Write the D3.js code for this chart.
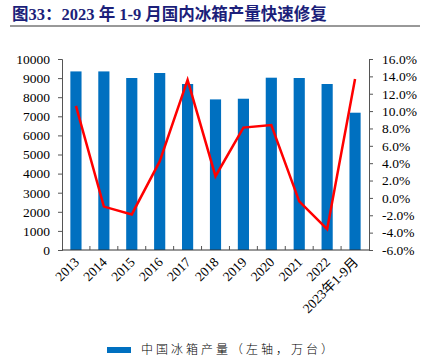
<!DOCTYPE html>
<html>
<head>
<meta charset="utf-8">
<script src="https://cdn.jsdelivr.net/npm/d3@7"></script>
<style>
  body { margin: 0; background: #fff; }
  svg text { font-family: "Liberation Serif", "Noto Sans CJK SC", serif; }
</style>
</head>
<body>
<div id="chart"></div>
<script>
const categories = ["2013", "2014", "2015", "2016", "2017", "2018", "2019", "2020", "2021", "2022", "2023年1-9月"];
const output = [9350, 9350, 9005, 9267, 8691, 7885, 7920, 9021, 9005, 8691, 7188];
const growth = [10.6, -1.0, -1.9, 4.2, 13.6, 2.5, 8.1, 8.4, -0.4, -3.6, 13.7];
const leftTicks = [0, 1000, 2000, 3000, 4000, 5000, 6000, 7000, 8000, 9000, 10000];
const rightTicks = [-6, -4, -2, 0, 2, 4, 6, 8, 10, 12, 14, 16];
const titleText = "图33：2023 年 1-9 月国内冰箱产量快速修复";
const legendText = "中国冰箱产量（左轴，万台）";

const width = 424, height = 363;
const margin = {top: 59, right: 55, bottom: 113, left: 62};
const plotW = width - margin.left - margin.right;
const plotH = height - margin.top - margin.bottom;

const svg = d3.select("#chart")
    .append("svg")
    .attr("width", width)
    .attr("height", height);

// title
svg.append("text")
    .attr("x", 12)
    .attr("y", 20)
    .attr("fill", "#1c1f7a")
    .attr("font-size", 16.5)
    .attr("font-weight", "bold")
    .text(titleText);

svg.append("line")
    .attr("x1", 10).attr("x2", 420)
    .attr("y1", 26).attr("y2", 26)
    .attr("stroke", "#333")
    .attr("stroke-width", 1);

const g = svg.append("g")
    .attr("transform", `translate(${margin.left}, ${margin.top})`);

const x = d3.scaleBand()
    .domain(categories)
    .range([0, plotW])
    .paddingInner(0.6)
    .paddingOuter(0.3);

const yLeft = d3.scaleLinear().domain([0, 10000]).range([plotH, 0]);
const yRight = d3.scaleLinear().domain([-6, 16]).range([plotH, 0]);

// bars
g.selectAll("rect.bar")
    .data(output)
    .enter()
    .append("rect")
    .attr("class", "bar")
    .attr("x", (d, i) => x(categories[i]))
    .attr("y", d => yLeft(d))
    .attr("width", x.bandwidth())
    .attr("height", d => plotH - yLeft(d))
    .attr("fill", "#0070c0");

// left axis
const leftAxis = g.append("g")
    .call(d3.axisLeft(yLeft).tickValues(leftTicks).tickSize(4).tickFormat(d3.format("d")));
leftAxis.selectAll("text").attr("font-size", 13.5).attr("fill", "#000").attr("x", -12);

// right axis
const rightAxis = g.append("g")
    .attr("transform", `translate(${plotW}, 0)`)
    .call(d3.axisRight(yRight).tickValues(rightTicks).tickSize(4).tickFormat(d => d.toFixed(1) + "%"));
rightAxis.selectAll("text").attr("font-size", 13.5).attr("fill", "#000").attr("x", 13);

[leftAxis, rightAxis].forEach(a => {
    a.select(".domain").attr("stroke", "#555");
    a.selectAll(".tick line").attr("stroke", "#555");
});

// bottom axis: category boundaries as ticks
const step = x.step();
const bottom = g.append("g").attr("transform", `translate(0, ${plotH})`);
bottom.append("line")
    .attr("x1", 0).attr("x2", plotW)
    .attr("stroke", "#333");
bottom.selectAll("line.tick")
    .data(categories.slice(1))
    .enter()
    .append("line")
    .attr("class", "tick")
    .attr("x1", d => x(d) - (step - x.bandwidth()) / 2)
    .attr("x2", d => x(d) - (step - x.bandwidth()) / 2)
    .attr("y1", 0).attr("y2", -4)
    .attr("stroke", "#555");
bottom.selectAll("text")
    .data(categories)
    .enter()
    .append("text")
    .attr("transform", d => `translate(${x(d) + x.bandwidth() / 2 + 4}, 13) rotate(-45)`)
    .attr("text-anchor", "end")
    .attr("font-size", 13.5)
    .attr("fill", "#000")
    .text(d => d);

// growth line
const line = d3.line()
    .x((d, i) => x(categories[i]) + x.bandwidth() / 2)
    .y(d => yRight(d));

g.append("path")
    .datum(growth)
    .attr("d", line)
    .attr("fill", "none")
    .attr("stroke", "#ff0000")
    .attr("stroke-width", 2.5);

// legend
const legend = svg.append("g").attr("transform", "translate(107, 350)");
legend.append("rect")
    .attr("x", 0).attr("y", -3)
    .attr("width", 24).attr("height", 6)
    .attr("fill", "#0070c0");
legend.append("text")
    .attr("x", 34)
    .attr("y", 0)
    .attr("dy", "0.35em")
    .attr("font-size", 12)
    .attr("fill", "#000")
    .style("letter-spacing", "3px")
    .style("font-family", "'Noto Sans CJK SC', sans-serif")
    .style("font-weight", 300)
    .text(legendText);
</script>
</body>
</html>
